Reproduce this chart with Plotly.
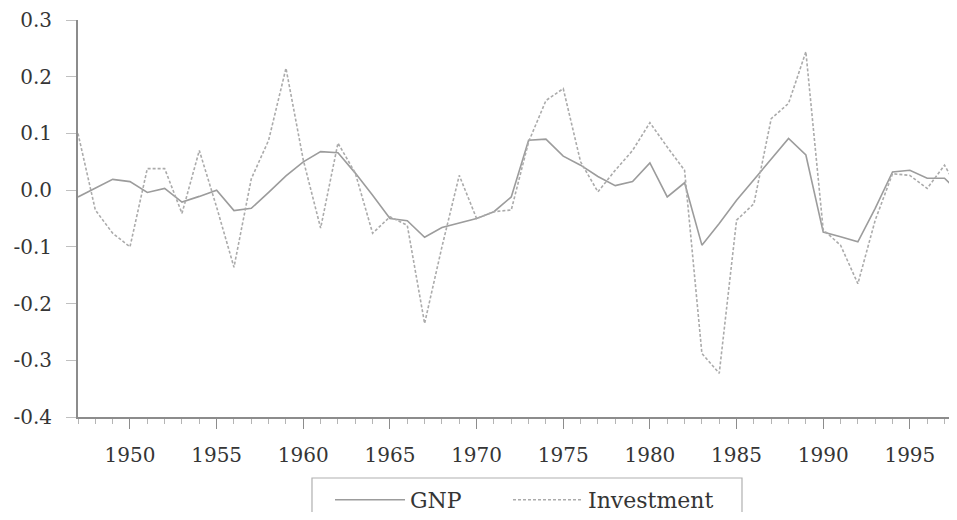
import plotly.graph_objects as go

# annual growth rates, 1947-1998
years = list(range(1947, 1999))
gnp = [-0.012, 0.003, 0.019, 0.015, -0.004, 0.003, -0.021, -0.011, 0.000, -0.036,
       -0.032, -0.004, 0.025, 0.050, 0.068, 0.066, 0.030, -0.009, -0.050, -0.054,
       -0.083, -0.066, -0.058, -0.050, -0.038, -0.012, 0.088, 0.090, 0.060, 0.044,
       0.024, 0.008, 0.015, 0.048, -0.012, 0.013, -0.097, -0.059, -0.018, 0.018,
       0.056, 0.091, 0.062, -0.074, -0.082, -0.091, -0.032, 0.032, 0.035, 0.021,
       0.021, -0.009]
investment = [0.100, -0.035, -0.076, -0.100, 0.038, 0.038, -0.041, 0.070, -0.030, -0.136,
              0.020, 0.088, 0.215, 0.053, -0.067, 0.083, 0.030, -0.076, -0.047, -0.062,
              -0.235, -0.100, 0.026, -0.050, -0.038, -0.035, 0.085, 0.158, 0.179, 0.050,
              -0.003, 0.035, 0.070, 0.119, 0.076, 0.035, -0.288, -0.323, -0.053, -0.024,
              0.126, 0.153, 0.244, -0.070, -0.097, -0.165, -0.053, 0.029, 0.026, 0.003,
              0.044, -0.010]

ytick_vals = [-0.4, -0.3, -0.2, -0.1, 0.0, 0.1, 0.2, 0.3]
ytick_text = ["-0.4", "-0.3", "-0.2", "-0.1", "0.0", "0.1", "0.2", "0.3"]

font_name = "DejaVu Serif"
leg_font = dict(family=font_name, size=22, color="#353535")

fig = go.Figure()
fig.add_trace(go.Scatter(x=years, y=gnp, name="GNP", mode="lines", legend="legend",
                         line=dict(color="#9c9c9c", width=1.6)))
fig.add_trace(go.Scatter(x=years, y=investment, name="Investment", mode="lines",
                         legend="legend2",
                         line=dict(color="#ababab", width=1.6, dash="3px,2px")))

# the page has an 8px body margin; the figure is sized so it fits the window
fig.update_layout(
    width=949, height=504,
    margin=dict(l=70, r=0, t=12, b=95, autoexpand=False),
    plot_bgcolor="white", paper_bgcolor="white",
    font=dict(family=font_name, size=20, color="#353535"),
    showlegend=True,
    legend=dict(x=0.2867, xanchor="left", y=-0.156, yanchor="top",
                bgcolor="rgba(0,0,0,0)", font=leg_font, itemwidth=70),
    legend2=dict(x=0.4892, xanchor="left", y=-0.156, yanchor="top",
                 bgcolor="rgba(0,0,0,0)", font=leg_font, itemwidth=70),
)

# legend frame
fig.add_shape(type="rect", xref="paper", yref="paper",
              x0=0.2662, x1=0.7554, y0=-0.1537, y1=-0.30,
              line=dict(color="#b0b0b0", width=1.2), fillcolor="rgba(0,0,0,0)",
              layer="below")

fig.update_xaxes(range=[1947, 1997.72], showgrid=False, zeroline=False,
                 showline=True, linecolor="#8c8c8c", linewidth=2,
                 ticks="outside", ticklen=10, tickwidth=1, tickcolor="#8c8c8c",
                 tick0=1950, dtick=5, ticklabelstandoff=9,
                 minor=dict(ticks="outside", ticklen=5, dtick=1, tick0=1947,
                            tickcolor="#b5b5b5", tickwidth=1, showgrid=False))
fig.update_yaxes(range=[-0.4, 0.3], showgrid=False, zeroline=False,
                 showline=True, linecolor="#8c8c8c", linewidth=2,
                 ticks="outside", ticklen=10, tickwidth=1, tickcolor="#c0c0c0",
                 tickvals=ytick_vals, ticktext=ytick_text, ticklabelstandoff=10)

fig.write_html("out.html")
